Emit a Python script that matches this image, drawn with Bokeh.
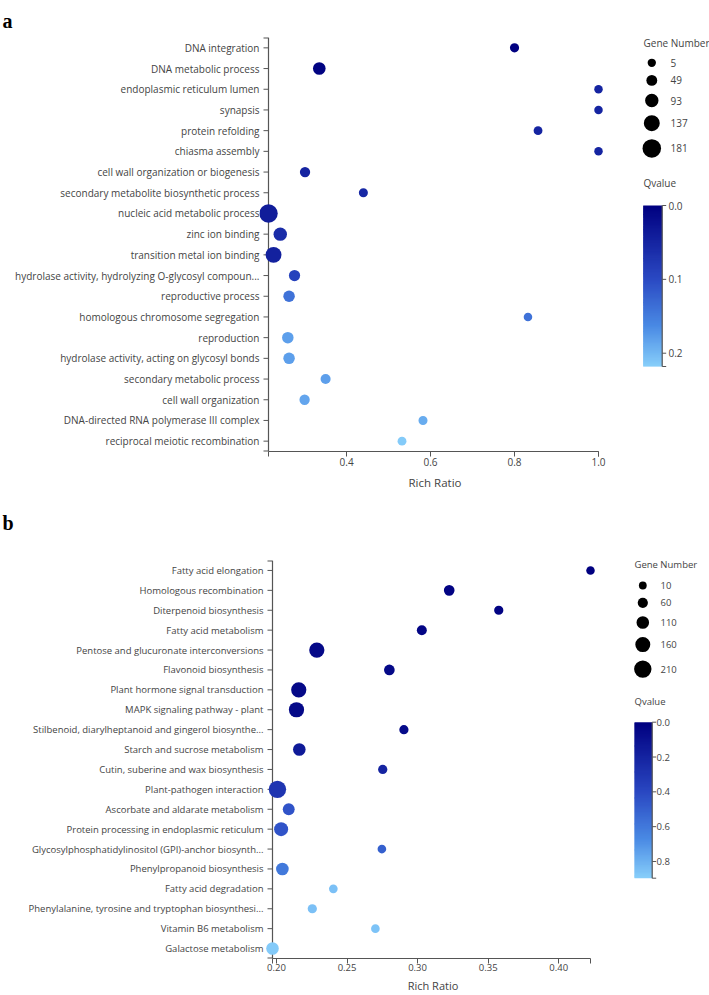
import numpy as np
from bokeh.plotting import figure
from bokeh.models import Range1d, FactorRange, FixedTicker, ColumnDataSource, PrintfTickFormatter, Span
from bokeh.layouts import column, row
from bokeh.transform import linear_cmap
from bokeh.core.properties import value
from bokeh.embed import file_html
from bokeh.resources import INLINE

# ---------------- data: panel a ----------------
terms_a = [
    "DNA integration", "DNA metabolic process", "endoplasmic reticulum lumen", "synapsis",
    "protein refolding", "chiasma assembly", "cell wall organization or biogenesis",
    "secondary metabolite biosynthetic process", "nucleic acid metabolic process",
    "zinc ion binding", "transition metal ion binding",
    "hydrolase activity, hydrolyzing O-glycosyl compoun...", "reproductive process",
    "homologous chromosome segregation", "reproduction",
    "hydrolase activity, acting on glycosyl bonds", "secondary metabolic process",
    "cell wall organization", "DNA-directed RNA polymerase III complex",
    "reciprocal meiotic recombination",
]
rich_a = [0.800, 0.335, 1.000, 1.000, 0.856, 1.000, 0.301, 0.440, 0.214, 0.242,
          0.226, 0.276, 0.263, 0.832, 0.260, 0.263, 0.350, 0.300, 0.582, 0.532]
genes_a = [20, 80, 8, 8, 14, 8, 40, 18, 181, 93, 137, 55, 60, 10, 60, 60, 35, 40, 18, 15]
qval_a = [0.002, 0.004, 0.05, 0.05, 0.05, 0.05, 0.05, 0.055, 0.04, 0.06,
          0.045, 0.09, 0.14, 0.14, 0.18, 0.18, 0.18, 0.185, 0.19, 0.215]
size_legend_a = [5, 49, 93, 137, 181]
q_ticks_a = [0.0, 0.1, 0.2]
q_max_a = 0.218
x_ticks_a = [0.4, 0.6, 0.8, 1.0]

# ---------------- data: panel b ----------------
terms_b = [
    "Fatty acid elongation", "Homologous recombination", "Diterpenoid biosynthesis",
    "Fatty acid metabolism", "Pentose and glucuronate interconversions",
    "Flavonoid biosynthesis", "Plant hormone signal transduction",
    "MAPK signaling pathway - plant", "Stilbenoid, diarylheptanoid and gingerol biosynthe...",
    "Starch and sucrose metabolism", "Cutin, suberine and wax biosynthesis",
    "Plant-pathogen interaction", "Ascorbate and aldarate metabolism",
    "Protein processing in endoplasmic reticulum",
    "Glycosylphosphatidylinositol (GPI)-anchor biosynth...", "Phenylpropanoid biosynthesis",
    "Fatty acid degradation", "Phenylalanine, tyrosine and tryptophan biosynthesi...",
    "Vitamin B6 metabolism", "Galactose metabolism",
]
rich_b = [0.4225, 0.3224, 0.3575, 0.3030, 0.2286, 0.2800, 0.2158, 0.2142, 0.2903, 0.2162,
          0.2753, 0.2007, 0.2087, 0.2033, 0.2747, 0.2042, 0.2403, 0.2254, 0.2701, 0.1972]
genes_b = [25, 70, 40, 55, 165, 70, 165, 165, 40, 110, 40, 210, 95, 140, 28, 110, 28, 40, 28, 110]
qval_b = [0.0, 0.02, 0.02, 0.03, 0.05, 0.05, 0.05, 0.05, 0.06, 0.15,
          0.2, 0.3, 0.45, 0.45, 0.5, 0.6, 0.85, 0.85, 0.86, 0.88]
size_legend_b = [10, 60, 110, 160, 210]
q_ticks_b = [0.0, 0.2, 0.4, 0.6, 0.8]
q_max_b = 0.896
x_ticks_b = [0.20, 0.25, 0.30, 0.35, 0.40]

# ---------------- styling ----------------
FONT = "Open Sans"
TXT = "#444444"
AX = "#555555"
PAD_L = 9    # px between frame edge and the y axis line (labels end here)
PAD_R = 12   # px of free frame right of the data domain
TICK = 5


def make_palette(stops, n=256):
    pos = [s[0] for s in stops]
    cols = [tuple(int(s[1][i:i + 2], 16) for i in (1, 3, 5)) for s in stops]
    out = []
    for t in np.linspace(0, 1, n):
        rgb = [np.interp(t, pos, [c[k] for c in cols]) for k in range(3)]
        out.append("#%02x%02x%02x" % tuple(int(round(v)) for v in rgb))
    return out


PALETTE = make_palette([(0.0, "#000080"), (0.45, "#2a48c2"), (0.75, "#4a8ae4"), (1.0, "#87cefa")])


def size_scale(vals, lo, hi, dmin, dmax):
    vals = np.asarray(vals, dtype=float)
    return list(dmin + (vals - lo) / (hi - lo) * (dmax - dmin))


def pixel_fig(width, height):
    p = figure(width=width, height=height, x_range=Range1d(0, width), y_range=Range1d(height, 0),
               output_backend="svg", toolbar_location=None, min_border=0,
               x_axis_type=None, y_axis_type=None, frame_align=False)
    p.outline_line_color = None
    p.xgrid.visible = False
    p.ygrid.visible = False
    return p


def letter_fig(letter, width, height, baseline):
    p = pixel_fig(width, height)
    p.text(x=[2], y=[baseline], text=[letter], text_font=value("Liberation Serif"),
           text_font_style="bold", text_font_size="20px", text_color="black",
           text_baseline="alphabetic", text_align="left")
    return p


def main_panel(terms, rich, genes, qv, qmax, sz_lo, sz_hi, dmin, dmax, xticks, fmt,
               width, height, bl, br, bb, font_px, lab_standoff, axlab_standoff):
    xmin, xmax = min(rich), max(rich)
    frame_w = width - bl - br
    u = (xmax - xmin) / (frame_w - PAD_L - PAD_R)   # data units per pixel
    p = figure(width=width, height=height,
               x_range=Range1d(xmin - PAD_L * u, xmax + PAD_R * u),
               y_range=FactorRange(factors=list(reversed(terms))),
               output_backend="svg", toolbar_location=None, frame_align=False,
               min_border_left=bl, min_border_right=br, min_border_top=0, min_border_bottom=bb)
    p.outline_line_color = None
    p.xgrid.visible = False
    p.ygrid.visible = False

    # y axis line and ticks drawn at the domain minimum (under the bubbles)
    p.add_layout(Span(location=xmin, dimension="height", line_color=AX, line_width=1.2, level="underlay"))
    n = len(terms)
    p.segment(x0=[xmin - TICK * u] * n, y0=terms, x1=[xmin] * n, y1=terms, line_color=AX, line_width=1)
    p.segment(x0=[xmin - TICK * u] * 2, y0=[0, n], x1=[xmin] * 2, y1=[0, n], line_color=AX, line_width=2)

    src = ColumnDataSource(dict(term=terms, rich=rich, genes=genes, q=qv,
                                size=size_scale(genes, sz_lo, sz_hi, dmin, dmax)))
    p.scatter(x="rich", y="term", size="size", source=src,
              fill_color=linear_cmap("q", PALETTE, 0, qmax), line_color=None)

    ya = p.yaxis[0]
    ya.axis_line_color = None
    ya.major_tick_line_color = None
    ya.major_tick_out = 0
    ya.major_tick_in = 0
    ya.major_label_standoff = 0
    xa = p.xaxis[0]
    xa.axis_line_color = AX
    xa.axis_line_width = 1.2
    xa.major_tick_line_color = AX
    xa.minor_tick_line_color = AX
    xa.major_tick_out = TICK
    xa.major_tick_in = 0
    xa.minor_tick_out = TICK
    xa.minor_tick_in = 0
    xa.bounds = (xmin, xmax)
    xa.ticker = FixedTicker(ticks=xticks, minor_ticks=[xmin, xmax])
    xa.formatter = PrintfTickFormatter(format=fmt)
    xa.major_label_standoff = lab_standoff
    xa.axis_label = "Rich Ratio"
    xa.axis_label_text_font = FONT
    xa.axis_label_text_font_size = f"{font_px + 1.5}px"
    xa.axis_label_text_font_style = "normal"
    xa.axis_label_text_color = TXT
    xa.axis_label_standoff = axlab_standoff
    for ax in (xa, ya):
        ax.major_label_text_font = FONT
        ax.major_label_text_font_size = f"{font_px}px"
        ax.major_label_text_color = TXT
    return p


def legend_panel(width, height, title_x, title_y, circ_x, circ_y0, gap, label_x, legend_vals,
                 sz_lo, sz_hi, dmin, dmax, qtitle_y, bar_x0, bar_x1, bar_y0, bar_y1, qmax,
                 qticks, qlabel_x, font_px):
    p = pixel_fig(width, height)
    fs = f"{font_px}px"

    p.text(x=[title_x], y=[title_y], text=["Gene Number"], text_font=value(FONT),
           text_font_size=fs, text_color=TXT, text_baseline="middle", text_align="left")
    ds = size_scale(legend_vals, sz_lo, sz_hi, dmin, dmax)
    ys = [circ_y0]
    for i in range(1, len(ds)):
        ys.append(ys[-1] + ds[i - 1] / 2 + gap + ds[i] / 2)
    p.scatter(x=[circ_x] * len(ds), y=ys, size=ds, fill_color="black", line_color=None)
    p.text(x=[label_x] * len(ds), y=ys, text=[str(v) for v in legend_vals], text_font=value(FONT),
           text_font_size=fs, text_color=TXT, text_baseline="middle", text_align="left")

    p.text(x=[title_x], y=[qtitle_y], text=["Qvalue"], text_font=value(FONT),
           text_font_size=fs, text_color=TXT, text_baseline="middle", text_align="left")
    n = 150
    qs = np.linspace(0, qmax, n + 1)
    h = bar_y1 - bar_y0
    tops = bar_y0 + qs[:-1] / qmax * h
    bots = np.minimum(bar_y0 + qs[1:] / qmax * h + 0.8, bar_y1)
    cb = ColumnDataSource(dict(top=list(tops), bottom=list(bots), q=list((qs[:-1] + qs[1:]) / 2)))
    p.quad(left=bar_x0, right=bar_x1, top="top", bottom="bottom", source=cb,
           fill_color=linear_cmap("q", PALETTE, 0, qmax), line_color=None)
    tick_y = [bar_y0 + t / qmax * h for t in qticks]
    p.segment(x0=[bar_x1], y0=[bar_y0], x1=[bar_x1], y1=[bar_y1], line_color=AX, line_width=1.2)
    p.segment(x0=[bar_x1] * (len(tick_y) + 1), y0=tick_y + [bar_y1],
              x1=[bar_x1 + 4] * (len(tick_y) + 1), y1=tick_y + [bar_y1],
              line_color=AX, line_width=1)
    p.text(x=[qlabel_x] * len(tick_y), y=tick_y, text=["%.1f" % t for t in qticks],
           text_font=value(FONT), text_font_size=fs, text_color=TXT,
           text_baseline="middle", text_align="left")
    return p


W_MAIN, W_LEG = 630, 79
TOP_A, H_A = 37, 461     # letter strip + plot for panel a  (page 0 .. 498)
TOP_B, H_B = 62, 435     # letter strip + plot for panel b  (page 498 .. 995)

let_a = letter_fig("a", W_MAIN, TOP_A, 20)
main_a = main_panel(terms_a, rich_a, genes_a, qval_a, q_max_a, 5, 181, 8.3, 18.5, x_ticks_a, "%.1f",
                    W_MAIN, H_A, 259, 20, 47, 10, 1, 6)
leg_a = legend_panel(W_LEG, TOP_A + H_A, 13, 42, 21.3, 62.3, 8.0, 40, size_legend_a, 5, 181, 8.3, 18.5,
                     182.7, 12.7, 31.7, 205, 366, q_max_a, q_ticks_a, 38, 10)

let_b = letter_fig("b", W_MAIN, TOP_B, 24)
main_b = main_panel(terms_b, rich_b, genes_b, qval_b, q_max_b, 10, 210, 7.8, 17.4, x_ticks_b, "%.2f",
                    W_MAIN, H_B, 263, 28, 35, 9.5, 0, 4)
leg_b = legend_panel(W_LEG, TOP_B + H_B, 4, 66.3, 12.3, 87, 8.3, 30, size_legend_b, 10, 210, 7.8, 17.4,
                     203, 4, 21.7, 223.7, 379.7, q_max_b, q_ticks_b, 26, 9.5)

layout = column(row(column(let_a, main_a), leg_a), row(column(let_b, main_b), leg_b))
open("out.html", "w").write(file_html(layout, INLINE))
